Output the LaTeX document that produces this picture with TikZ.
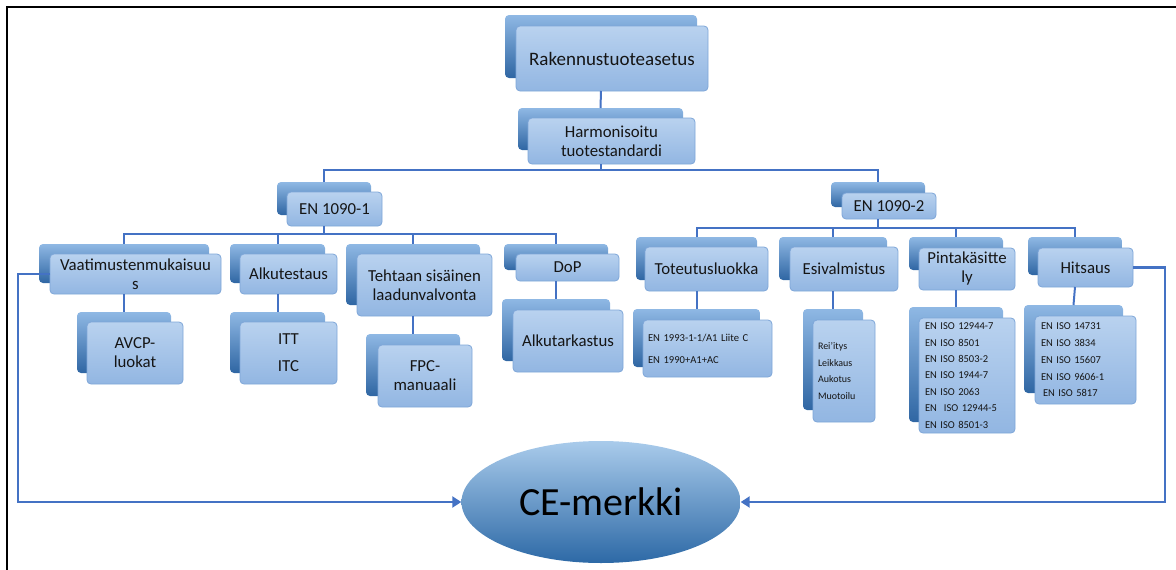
\documentclass[tikz,border=0pt]{standalone}
\usepackage{fontspec}
\setmainfont{Carlito}
\usetikzlibrary{shapes.geometric,arrows.meta}
\definecolor{connC}{HTML}{4472C4}
\definecolor{frontTop}{HTML}{B9D2EF}
\definecolor{frontBot}{HTML}{92B6E2}
\definecolor{frontDraw}{HTML}{7EA6D8}
\definecolor{backTop}{HTML}{8FB8E4}
\definecolor{backBot}{HTML}{2F66A3}
\definecolor{ceTop}{HTML}{A9CBEB}
\definecolor{ceMid}{HTML}{6CA2D9}
\definecolor{ceBot}{HTML}{2D69A6}
\definecolor{txt}{HTML}{151515}
\newcommand\backnode[5]{\node[backbox, minimum width={(#4-#2)*1pt}, minimum height={(#5-#3)*1pt}] (#1) at ({(#2+#4)/2},{(#3+#5)/2}) {};}
\newcommand\frontnode[7][]{\node[frontbox, minimum width={(#5-#3)*1pt}, minimum height={(#6-#4)*1pt}, #1] (#2) at ({(#3+#5)/2},{(#4+#6)/2}) {#7};}
\tikzset{
  backbox/.style={rectangle, rounded corners=4pt, draw=none, top color=backTop, bottom color=backBot, inner sep=0pt, outer sep=0pt},
  frontbox/.style={rectangle, rounded corners=4pt, draw=frontDraw, line width=0.8pt, top color=frontTop, bottom color=frontBot, inner sep=2pt, outer sep=0pt, align=center, text=txt, font=\fontsize{16.8}{19}\selectfont},
  listbox/.style={align=left, inner xsep=5pt, font=\fontsize{10.5}{16.5}\selectfont},
  conn/.style={draw=connC, line width=2pt},
  fb/.style={draw=connC, line width=2.6pt, -{Triangle[length=9pt,width=11pt]}},
  cebox/.style={ellipse, minimum width=279pt, minimum height=122pt, inner sep=0pt, top color=ceTop, middle color=ceMid, bottom color=ceBot, draw=none, text=black, font=\fontsize{40}{44}\selectfont}
}
\begin{document}
\begin{tikzpicture}[x=1pt,y=-1pt]
\useasboundingbox (0,0) rectangle (1176,570);
\draw[line width=2pt, black] (7,570) -- (7,7) -- (1176,7);
% back boxes
\backnode{rakb}{505}{15}{697}{78}
\backnode{harmb}{518}{108}{683}{150}
\backnode{en1b}{277}{182}{371}{215}
\backnode{vaatb}{39}{244}{209}{283}
\backnode{avcpb}{77}{312}{171}{373}
\backnode{alkub}{230}{244}{325}{283}
\backnode{ittb}{230}{312}{325}{373}
\backnode{tehtb}{346}{244}{480}{305}
\backnode{fpcb}{366}{334}{460}{396}
\backnode{dopb}{504}{244}{608}{270}
\backnode{alktb}{502}{299}{610}{361}
\backnode{en2b}{831}{182}{925}{207}
\backnode{totb}{636}{237}{757}{280}
\backnode{en93b}{633}{309}{760}{367}
\backnode{esib}{779}{237}{887}{280}
\backnode{reib}{803}{309}{863}{410}
\backnode{pinb}{909}{237}{1003}{270}
\backnode{iso1b}{909}{307}{1003}{422}
\backnode{hitb}{1028}{237}{1122}{275}
\backnode{iso2b}{1024}{305}{1123}{393}
% front boxes
\frontnode[font=\fontsize{19}{22}\selectfont]{rak}{516}{26}{708}{91}{Rakennustuoteasetus}
\frontnode{harm}{528}{118}{695}{164}{Harmonisoitu\\tuotestandardi}
\frontnode{en1}{287}{192}{382}{226}{EN 1090-1}
\frontnode{vaat}{50}{254}{221}{294}{Vaatimustenmukaisuu\\s}
\frontnode{avcp}{87}{322}{183}{384}{AVCP-\\luokat}
\frontnode{alku}{240}{254}{337}{294}{Alkutestaus}
\frontnode{itt}{240}{322}{337}{384}{ITT\\[8pt]ITC}
\frontnode{teht}{357}{254}{492}{316}{Tehtaan sisäinen\\laadunvalvonta}
\frontnode{fpc}{378}{345}{472}{407}{FPC-\\manuaali}
\frontnode{dop}{516}{254}{619}{281}{DoP}
\frontnode{alkt}{513}{310}{623}{372}{Alkutarkastus}
\frontnode{en2}{842}{193}{936}{219}{EN 1090-2}
\frontnode{tot}{645}{247}{768}{291}{Toteutusluokka}
\frontnode[listbox, text width=119pt, font=\fontsize{10.6}{22}\selectfont]{en93}{643}{320}{772}{377}{EN 1993-1-1/A1 Liite C\\EN 1990+A1+AC}
\frontnode{esi}{790}{247}{898}{291}{Esivalmistus}
\frontnode[listbox, text width=52pt, font=\fontsize{10}{16.7}\selectfont]{rei}{813}{320}{875}{422}{Rei'itys\\Leikkaus\\Aukotus\\Muotoilu}
\frontnode{pin}{919}{248}{1015}{290}{Pintakäsitte\\ly}
\frontnode[listbox, inner xsep=6pt, text width=84pt, font=\fontsize{10.5}{16.4}\selectfont]{iso1}{919}{318}{1015}{433}{EN ISO 12944-7\\EN ISO 8501\\EN ISO 8503-2\\EN ISO 1944-7\\EN ISO 2063\\EN~~ISO 12944-5\\EN ISO 8501-3}
\frontnode{hit}{1038}{248}{1133}{287}{Hitsaus}
\frontnode[listbox, inner xsep=6pt, text width=89pt, font=\fontsize{10.5}{16.7}\selectfont]{iso2}{1035}{316}{1136}{404}{EN ISO 14731\\EN ISO 3834\\EN ISO 15607\\EN ISO 9606-1\\\hspace{2pt}EN ISO 5817}
% CE
\node[cebox] (ce) at (601,502) {CE-merkki};
% tree connectors
\coordinate (bus0) at (harmb |- 0,170);
\coordinate (bus1) at (en1b |- 0,234);
\coordinate (bus2) at (en2b |- 0,228);
\draw[conn] (rak.south -| rakb) -- (harmb.north);
\draw[conn] (harm.south -| harmb) -- (bus0);
\draw[conn] (en1b.north) |- (bus0) -| (en2b.north);
\draw[conn] (en1.south -| en1b) -- (bus1);
\draw[conn] (vaatb.north) |- (bus1) -| (dopb.north);
\draw[conn] (alkub.north) -- (alkub |- bus1);
\draw[conn] (tehtb.north) -- (tehtb |- bus1);
\draw[conn] (vaat.south -| vaatb) -- (avcpb.north);
\draw[conn] (alku.south -| alkub) -- (ittb.north);
\draw[conn] (teht.south -| tehtb) -- (fpcb.north);
\draw[conn] (dop.south -| dopb) -- (alktb.north);
\draw[conn] (en2.south -| en2b) -- (bus2);
\draw[conn] (totb.north) |- (bus2) -| (hitb.north);
\draw[conn] (esib.north) -- (esib |- bus2);
\draw[conn] (pinb.north) -- (pinb |- bus2);
\draw[conn] (tot.south -| totb) -- (en93b.north);
\draw[conn] (esi.south -| esib) -- (reib.north);
\draw[conn] (pin.south -| pinb) -- (iso1b.north);
\draw[conn] (hit.south -| hitb) -- (iso2b.north);
% feedback arrows
\coordinate (lc) at (18,0);
\coordinate (rc) at (1165,0);
\draw[fb] (vaat.west) -- (vaat.west -| lc) |- (ce.west);
\draw[fb] (hit.east) -- (hit.east -| rc) |- (ce.east);
\end{tikzpicture}
\end{document}
